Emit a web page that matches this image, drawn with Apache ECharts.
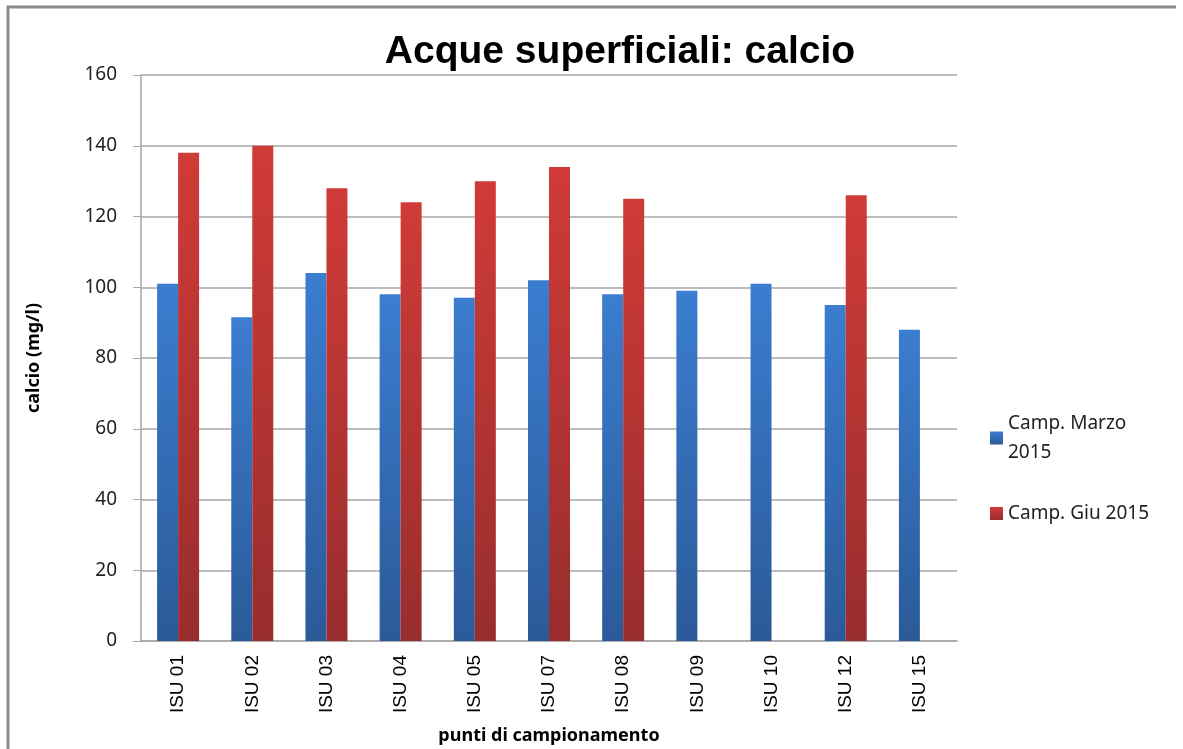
<!DOCTYPE html>
<html>
<head>
<meta charset="utf-8">
<script src="https://cdn.jsdelivr.net/npm/echarts@6/dist/echarts.min.js"></script>
<style>
  html, body { margin: 0; padding: 0; background: #fff; }
  #chart { width: 1183px; height: 749px; }
</style>
</head>
<body>
<div id="chart"></div>
<script>
const categories = ['ISU 01', 'ISU 02', 'ISU 03', 'ISU 04', 'ISU 05', 'ISU 07', 'ISU 08', 'ISU 09', 'ISU 10', 'ISU 12', 'ISU 15'];
const marzo = [101, 91.5, 104, 98, 97, 102, 98, 99, 101, 95, 88];
const giugno = [138, 140, 128, 124, 130, 134, 125, null, null, 126, null];
const seriesNames = ['Camp. Marzo\n2015', 'Camp. Giu 2015'];

const chart = echarts.init(document.getElementById('chart'));

const grad = (top, bottom) => new echarts.graphic.LinearGradient(0, 0, 0, 1, [
  { offset: 0, color: top },
  { offset: 1, color: bottom }
]);

const option = {
  backgroundColor: '#fff',
  animation: false,
  title: {
    text: 'Acque superficiali: calcio',
    left: 615,
    textAlign: 'center',
    top: 28,
    textStyle: {
      fontFamily: 'Liberation Sans',
      fontWeight: 'bold',
      fontSize: 39,
      color: '#000'
    }
  },
  grid: {
    left: 141,
    right: 226,
    top: 75,
    bottom: 108,
    outerBoundsMode: 'none'
  },
  legend: {
    orient: 'vertical',
    left: 985,
    top: 404,
    itemWidth: 13,
    itemHeight: 13,
    itemGap: 32,
    icon: 'rect',
    textStyle: {
      fontFamily: 'Noto Sans',
      fontSize: 19,
      color: '#222',
      lineHeight: 29
    },
    data: seriesNames
  },
  xAxis: {
    type: 'category',
    data: categories,
    name: 'punti di campionamento',
    nameLocation: 'middle',
    nameGap: 86,
    nameTextStyle: {
      fontFamily: 'Noto Sans',
      fontWeight: 'bold',
      fontSize: 18,
      color: '#000'
    },
    axisLine: { lineStyle: { color: '#a6a6a6', width: 1.5 } },
    axisTick: { show: false },
    axisLabel: {
      rotate: 90,
      margin: 14,
      fontFamily: 'Liberation Sans',
      fontSize: 19,
      color: '#000'
    }
  },
  yAxis: {
    type: 'value',
    min: 0,
    max: 160,
    interval: 20,
    name: 'calcio (mg/l)',
    nameLocation: 'middle',
    nameGap: 98,
    nameTextStyle: {
      fontFamily: 'Noto Sans',
      fontWeight: 'bold',
      fontSize: 18,
      color: '#000'
    },
    axisLine: { show: true, lineStyle: { color: '#a6a6a6', width: 1.5 } },
    axisTick: { show: true, length: 8, lineStyle: { color: '#a6a6a6' } },
    axisLabel: {
      margin: 24,
      fontFamily: 'Noto Sans',
      fontSize: 19,
      color: '#222'
    },
    splitLine: { lineStyle: { color: '#a6a6a6', width: 1.5 } }
  },
  series: [
    {
      name: seriesNames[0],
      type: 'bar',
      data: marzo,
      barWidth: 21,
      barGap: '0%',
      itemStyle: { color: grad('#3b7dd0', '#2b5a98') }
    },
    {
      name: seriesNames[1],
      type: 'bar',
      data: giugno,
      barWidth: 21,
      barGap: '0%',
      itemStyle: { color: grad('#d03b37', '#982d2e') }
    }
  ],
  graphic: [
    {
      type: 'polyline',
      shape: { points: [[8, 760], [8, 7], [1176, 7]] },
      style: { stroke: '#8c8c8c', lineWidth: 3, fill: null }
    }
  ]
};

chart.setOption(option);
</script>
</body>
</html>
